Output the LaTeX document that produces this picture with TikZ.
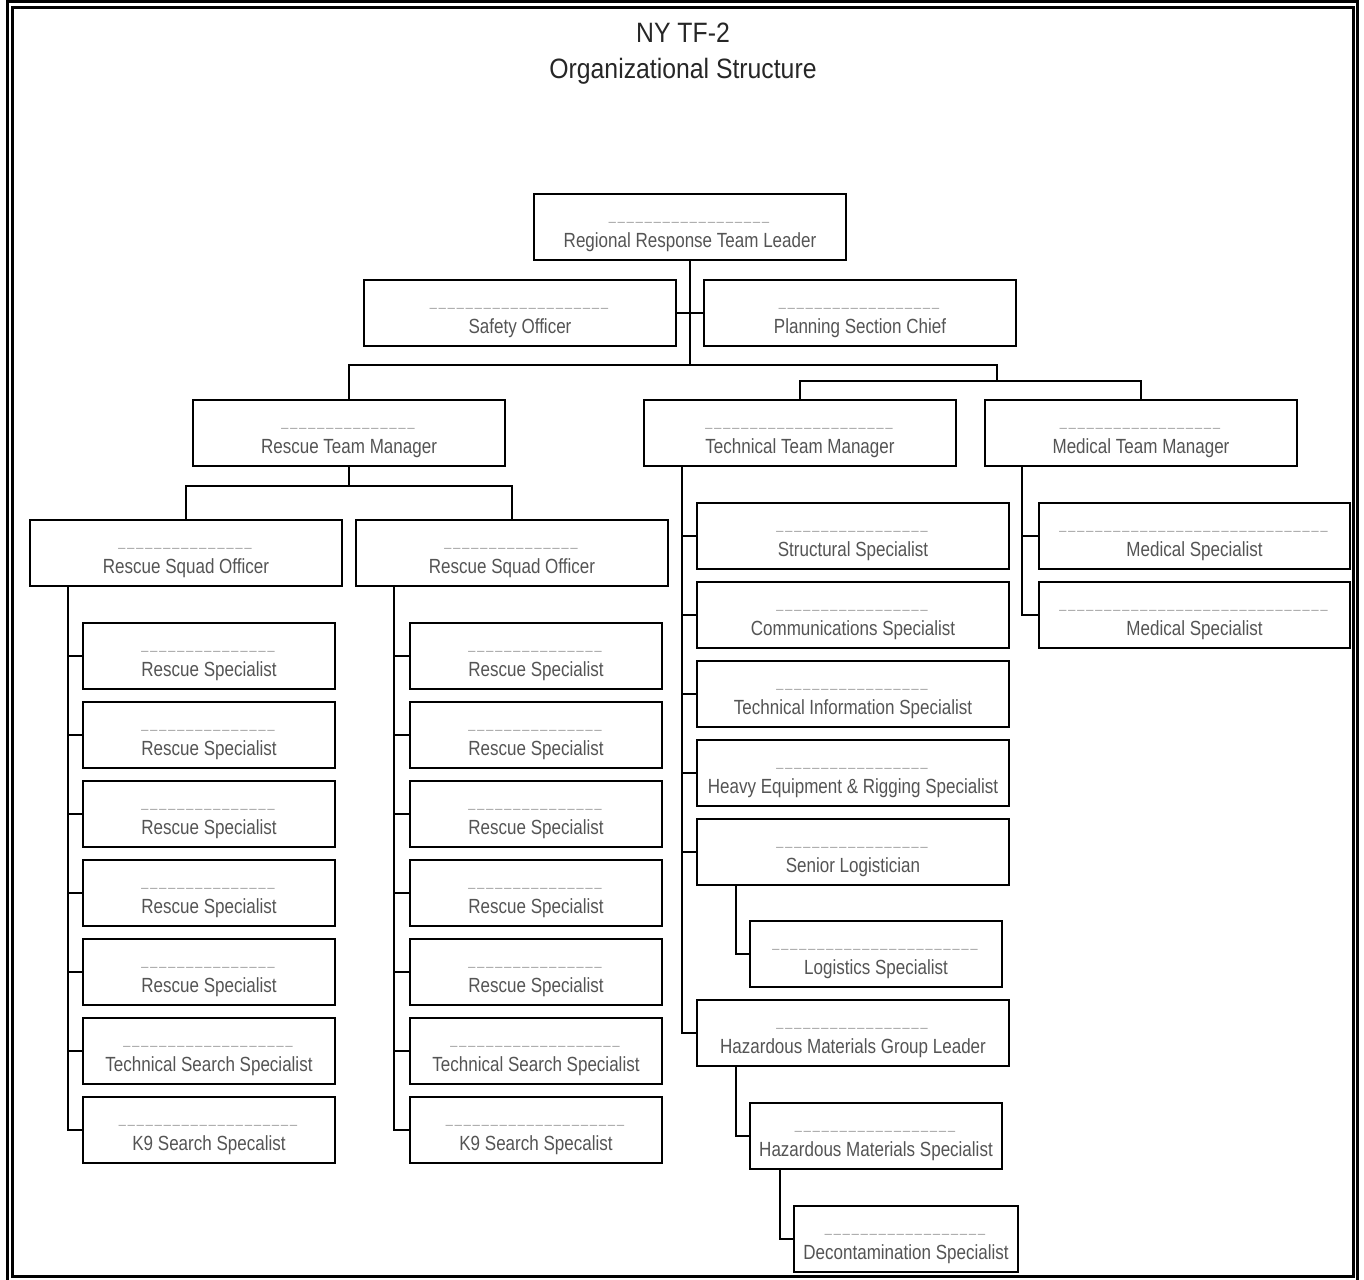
\documentclass[tikz,border=0pt]{standalone}
\usepackage{fontspec}
\setmainfont{Liberation Sans}
\newfontfamily\boxfont[FakeStretch=0.83]{Liberation Sans}
\newfontfamily\titlefont[FakeStretch=0.885]{Liberation Sans}
\newfontfamily\sigfont[FakeStretch=0.9]{Liberation Sans}
\definecolor{txtgray}{gray}{0.33}
\definecolor{siggray}{gray}{0.6}
% blank name line above each post
\newcommand\sig[1]{{\sigfont\fontsize{14pt}{14pt}\selectfont\color{siggray}\foreach\n in {1,...,#1}{\_\kern2pt}}}
\tikzset{
  post/.style={draw, line width=2pt, minimum width=312pt, minimum height=66pt,
    inner sep=0pt, text height=53pt, text depth=13pt, align=center,
    font=\boxfont\fontsize{20.5pt}{26.5pt}\selectfont, text=txtgray},
  spec/.style={post, minimum width=252pt},
  link/.style={line width=2pt}
}
\begin{document}
\begin{tikzpicture}[x=1pt,y=-1pt]
\useasboundingbox (0,0) rectangle (1364,1279);
\draw[line width=3pt] (7.5,2) rectangle (1357.5,1283);
\draw[line width=3pt] (12.5,7.5) rectangle (1353.5,1276);
\node[font=\titlefont\fontsize{28pt}{36pt}\selectfont, align=center, anchor=base, text=black!85] (title) at (683,79) {NY TF-2\\Organizational Structure};
% command staff
\node[post] (lead) at (690,227) {\sig{18}\\Regional Response Team Leader};
\node[post] (safety) at (520,313) {\sig{20}\\Safety Officer};
\node[post] (plan) at (860,313) {\sig{18}\\Planning Section Chief};
\node[post] (rtm) at (349,433) {\sig{15}\\Rescue Team Manager};
\node[post] (ttm) at (800,433) {\sig{21}\\Technical Team Manager};
\node[post] (mtm) at (1141,433) {\sig{18}\\Medical Team Manager};
\coordinate (bar) at (690,365);
\draw[link] (lead.south) -- (bar);
\draw[link] (safety.east) -- (plan.west);
\draw[link] (rtm.north) |- (bar) -- ++(307,0) -- ++(0,16) coordinate (split);
\draw[link] (ttm.north) |- (split);
\draw[link] (mtm.north) |- (split);
% rescue
\node[post] (rso1) at (186,553) {\sig{15}\\Rescue Squad Officer};
\node[post] (rso2) at (512,553) {\sig{15}\\Rescue Squad Officer};
\coordinate (rfork) at ([yshift=-19pt]rtm.south);
\draw[link] (rtm.south) -- (rfork);
\draw[link] (rso1.north) |- (rfork) -| (rso2.north);
\foreach \c/\x in {1/209, 2/536} {
  \coordinate (trunk\c) at ([xshift=39pt]rso\c.south west);
  \foreach \k in {1,...,5} {
    \node[spec] (rs\c-\k) at (\x,{656+79*(\k-1)}) {\sig{15}\\Rescue Specialist};
    \draw[link] (rs\c-\k.west) -- (rs\c-\k.west -| trunk\c);
  }
  \node[spec] (ts\c) at (\x,1051) {\sig{19}\\Technical Search Specialist};
  \node[spec] (k9\c) at (\x,1130) {\sig{20}\\K9 Search Specalist};
  \draw[link] (ts\c.west) -- (ts\c.west -| trunk\c);
  \draw[link] (trunk\c) |- (k9\c.west);
}
% technical
\node[post] (struct) at (853,536) {\sig{17}\\Structural Specialist};
\node[post] (comm) at (853,615) {\sig{17}\\Communications Specialist};
\node[post] (techinfo) at (853,694) {\sig{17}\\Technical Information Specialist};
\node[post] (heavy) at (853,773) {\sig{17}\\Heavy Equipment \& Rigging Specialist};
\node[post] (senlog) at (853,852) {\sig{17}\\Senior Logistician};
\node[spec] (logspec) at (876,954) {\sig{23}\\Logistics Specialist};
\node[post] (hazlead) at (853,1033) {\sig{17}\\Hazardous Materials Group Leader};
\node[spec] (hazspec) at (876,1136) {\sig{18}\\Hazardous Materials Specialist};
\node[spec, minimum width=224pt] (decon) at (906,1239) {\sig{18}\\Decontamination Specialist};
\coordinate (ttrunk) at ([xshift=39pt]ttm.south west);
\draw[link] (ttrunk) |- (hazlead.west);
\foreach \b in {struct,comm,techinfo,heavy,senlog}
  \draw[link] (\b.west) -- (\b.west -| ttrunk);
\draw[link] ([xshift=40pt]senlog.south west) |- (logspec.west);
\draw[link] ([xshift=40pt]hazlead.south west) |- (hazspec.west);
\draw[link] ([xshift=31pt]hazspec.south west) |- (decon.west);
% medical
\node[post, minimum width=311pt] (med1) at (1194.5,536) {\sig{30}\\Medical Specialist};
\node[post, minimum width=311pt] (med2) at (1194.5,615) {\sig{30}\\Medical Specialist};
\coordinate (mtrunk) at ([xshift=38pt]mtm.south west);
\draw[link] (mtrunk) |- (med2.west);
\draw[link] (med1.west) -- (med1.west -| mtrunk);
\end{tikzpicture}
\end{document}
